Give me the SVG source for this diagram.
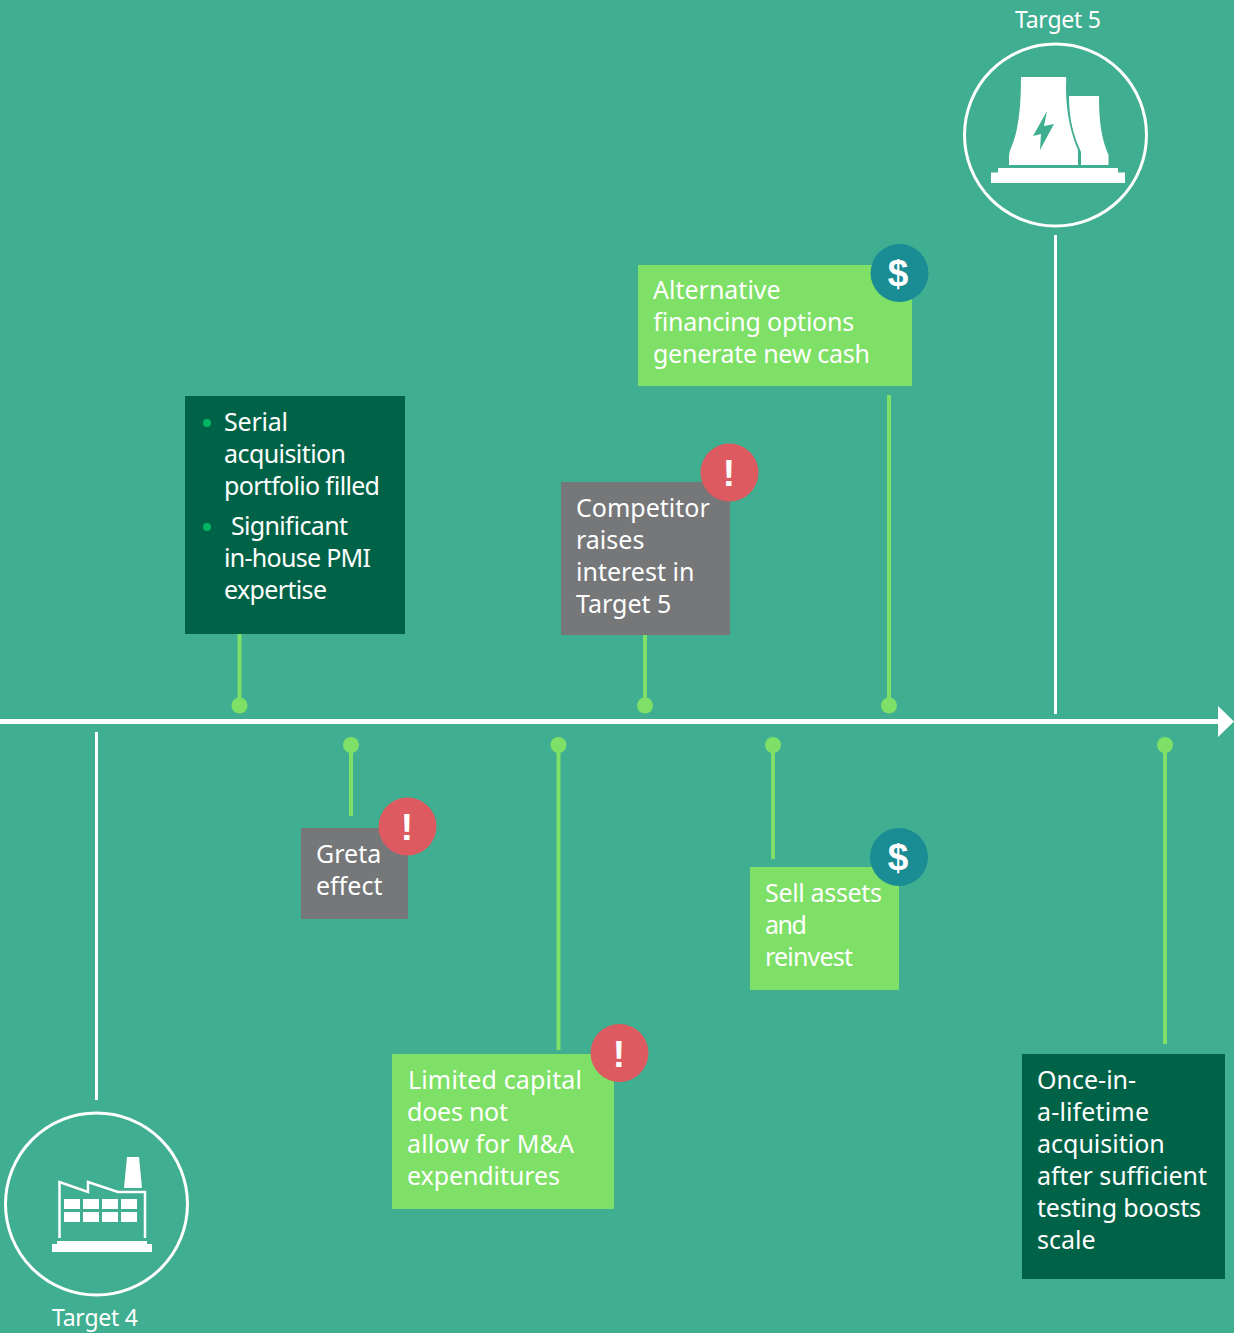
<svg xmlns="http://www.w3.org/2000/svg" width="1234" height="1333" viewBox="0 0 1234 1333">
<style>
text{font-family:"Noto Sans","Open Sans",sans-serif;font-size:25px;fill:#fff}
.lbl{font-size:23px}
.ic{fill:#fff}
.stem{stroke:#7ee066;stroke-width:4;fill:none}
.dot{fill:#7ee066}
.ring{fill:none;stroke:#fff;stroke-width:3}
.wl{stroke:#fff;stroke-width:3;fill:none}
.alert{fill:#dd5b60}
.cash{fill:#1a8c94}
.sym{font-family:"Liberation Sans",sans-serif;font-weight:700;font-size:37px;text-anchor:middle}
</style>
<rect width="1234" height="1333" fill="#40ae90"/>
<g id="connectors">
<path d="M0 721.500H1220" stroke="#fff" stroke-width="5"/>
<path d="M1218 706L1234 721.500L1218 737Z" fill="#fff"/>
<path class="wl" d="M1055.500 235V714M96.500 732V1100"/>
<path class="stem" d="M239.500 634V705M645 634V705M889 395V705M351 745V816M558.500 745V1050M773 745V859M1165 745V1044"/>
<circle class="dot" cx="239.500" cy="705.500" r="8"/><circle class="dot" cx="645" cy="705.500" r="8"/><circle class="dot" cx="889" cy="705.500" r="8"/>
<circle class="dot" cx="351" cy="745" r="8"/><circle class="dot" cx="558.500" cy="745" r="8"/><circle class="dot" cx="773" cy="745" r="8"/><circle class="dot" cx="1165" cy="745" r="8"/>
</g>
<g id="target5">
<circle class="ring" cx="1055.500" cy="135" r="91"/>
<path class="ic" d="M1021 77H1066C1066.500 77 1066 85 1066 88C1066 115 1072 136 1078 150C1078 155 1078 165 1078 165H1009C1009 155 1009 152 1011 148C1018 132 1021 110 1021 77Z"/>
<path class="ic" d="M1069 96H1099C1099 120 1101 138 1108.500 155V165H1081V152C1073 135 1069 118 1069 96Z"/>
<path class="ic" d="M998 168H1118V172.500H1125V183H991V172.500H998Z"/>
<path d="M1047 111L1033 136L1041 134L1040 150L1054 124L1044 126Z" fill="#40ae90"/>
<text class="lbl" x="1015" y="27.500" textLength="86">Target 5</text>
</g>
<g id="target4">
<circle class="ring" cx="96.500" cy="1204" r="91"/>
<path class="ic" d="M127 1157H139L142 1188H124Z"/>
<path d="M59.500 1238V1182L88 1192V1182L118 1192L145 1192V1238" fill="none" stroke="#fff" stroke-width="2.500"/>
<path class="ic" d="M57 1241H147V1244H152V1252H52V1244H57Z"/>
<path class="ic" d="M64 1199h16v10h-16zM83 1199h16v10h-16zM102 1199h16v10h-16zM121 1199h16v10h-16zM64 1212h16v10h-16zM83 1212h16v10h-16zM102 1212h16v10h-16zM121 1212h16v10h-16z"/>
<text class="lbl" x="52" y="1326" textLength="86">Target 4</text>
</g>
<g id="serial">
<rect x="185" y="396" width="220" height="238" fill="#006348"/>
<circle cx="207" cy="423" r="4" fill="#00b761"/><circle cx="207" cy="527" r="4" fill="#00b761"/>
<text x="224" y="431" textLength="64">Serial</text><text x="224" y="463" textLength="122">acquisition</text><text x="224" y="495" textLength="156">portfolio filled</text>
<text x="231" y="535" textLength="117">Significant</text><text x="224" y="567" textLength="147">in-house PMI</text><text x="224" y="599" textLength="103">expertise</text>
</g>
<g id="competitor">
<rect x="561" y="482" width="169" height="153" fill="#767779"/>
<text x="576" y="517">Competitor</text><text x="576" y="549">raises</text><text x="576" y="581">interest in</text><text x="576" y="613">Target 5</text>
<circle class="alert" cx="729.500" cy="472.500" r="29"/><text class="sym" x="729" y="486">!</text>
</g>
<g id="financing">
<rect x="638" y="265" width="274" height="121" fill="#7ee066"/>
<text x="653" y="299">Alternative</text><text x="653" y="331" textLength="201">financing options</text><text x="653" y="363" textLength="217">generate new cash</text>
<circle class="cash" cx="899.500" cy="273" r="29"/><text class="sym" x="898" y="286">$</text>
</g>
<g id="greta">
<rect x="301" y="828" width="107" height="91" fill="#767779"/>
<text x="316" y="863">Greta</text><text x="316" y="895">effect</text>
<circle class="alert" cx="407.500" cy="826.500" r="29"/><text class="sym" x="407" y="840">!</text>
</g>
<g id="capital">
<rect x="392" y="1054" width="222" height="155" fill="#7ee066"/>
<text x="408" y="1089" textLength="174">Limited capital</text><text x="407" y="1121" textLength="101">does not</text><text x="407" y="1153" textLength="167">allow for M&amp;A</text><text x="407" y="1185" textLength="153">expenditures</text>
<circle class="alert" cx="619.500" cy="1053" r="29"/><text class="sym" x="619" y="1067">!</text>
</g>
<g id="sell">
<rect x="750" y="867" width="149" height="123" fill="#7ee066"/>
<text x="765" y="902" textLength="117">Sell assets</text><text x="765" y="934" textLength="42">and</text><text x="765" y="966" textLength="88">reinvest</text>
<circle class="cash" cx="899" cy="857" r="29"/><text class="sym" x="898" y="870">$</text>
</g>
<g id="once">
<rect x="1022" y="1054" width="203" height="225" fill="#006348"/>
<text x="1037" y="1089">Once-in-</text><text x="1037" y="1121" textLength="112">a-lifetime</text><text x="1037" y="1153">acquisition</text><text x="1037" y="1185" textLength="170">after sufficient</text><text x="1037" y="1217" textLength="164">testing boosts</text><text x="1037" y="1249">scale</text>
</g>
</svg>
